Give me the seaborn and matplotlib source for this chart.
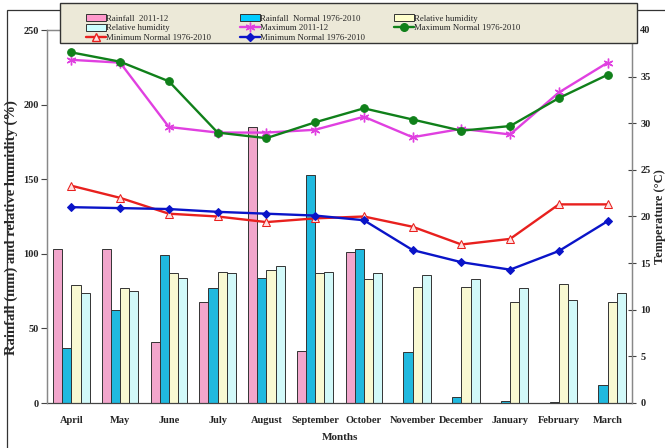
import matplotlib
matplotlib.use("Agg")
import matplotlib.pyplot as plt
from matplotlib.patches import Patch, Rectangle
from matplotlib.lines import Line2D
import numpy as np
import pandas as pd
import seaborn as sns

months = ["April", "May", "June", "July", "August", "September", "October",
          "November", "December", "January", "February", "March"]

# bars, left axis
rain_2011 = [103, 103, 41, 68, 185, 35, 101, 0, 0, 0, 0, 0]
rain_normal = [37, 62, 99, 77, 84, 153, 103, 34, 4, 1.6, 0.5, 12]
rh_yellow = [79, 77, 87, 88, 89, 87, 83, 78, 78, 68, 80, 68]
rh_cyan = [74, 75, 84, 87, 92, 88, 87, 86, 83, 77, 69, 74]

# lines, right axis (deg C)
tmax_2011 = [36.8, 36.5, 29.6, 29.0, 29.0, 29.3, 30.7, 28.5, 29.4, 28.8, 33.3, 36.5]
tmax_normal = [37.6, 36.6, 34.5, 29.0, 28.4, 30.1, 31.6, 30.4, 29.2, 29.7, 32.7, 35.2]
tmin_normal_red = [23.3, 22.0, 20.3, 20.0, 19.4, 19.8, 20.0, 18.9, 17.0, 17.6, 21.3, 21.3]
tmin_normal_blue = [21.0, 20.9, 20.8, 20.5, 20.3, 20.1, 19.6, 16.4, 15.1, 14.3, 16.3, 19.5]

bar_names = ["Rainfall  2011-12", "Rainfall  Normal 1976-2010",
             "Relative humidity", "Relative humidity "]
bar_colors = ["#FF99CC", "#00CCFF", "#FFFFCC", "#CCFFFF"]

sns.set_style("white")
plt.rcParams["font.family"] = ["Liberation Serif", "DejaVu Serif"]

W, H = 665, 448
fig = plt.figure(figsize=(W / 100, H / 100), dpi=100)
ax = fig.add_axes([47 / W, 1 - 403 / H, 585 / W, 373 / H])

df = pd.DataFrame({
    "month": months * 4,
    "value": rain_2011 + rain_normal + rh_yellow + rh_cyan,
    "series": sum([[n] * len(months) for n in bar_names], []),
})
sns.barplot(data=df, x="month", y="value", hue="series", hue_order=bar_names,
            palette=bar_colors, width=0.75, edgecolor="#333333", linewidth=0.7,
            errorbar=None, legend=False, ax=ax)

ax.set_xlim(-0.5, len(months) - 0.5)
ax.set_ylim(0, 250)
ax.set_yticks(np.arange(0, 251, 50))
ax.set_xticks(np.arange(len(months)))
ax.set_xticklabels(months, fontweight="bold", fontsize=7.5)
ax.set_xticks(np.arange(-0.5, len(months), 1), minor=True)
ax.tick_params(axis="x", which="major", length=0, pad=9)
ax.tick_params(axis="x", which="minor", length=6, direction="inout", color="#444444", width=0.8)
ax.tick_params(axis="y", length=4, direction="out", color="#444444", width=0.8,
               labelsize=7.5, pad=2, left=True)
for lab in ax.get_yticklabels():
    lab.set_fontweight("bold")
ax.set_xlabel("Months", fontweight="bold", fontsize=8, labelpad=6)
ax.set_ylabel("Rainfall (mm) and relative humidity (%)", fontweight="bold", fontsize=10.5)
ax.yaxis.set_label_coords((18 - 47) / 585, 0.47)
for s in ["left", "right", "top"]:
    ax.spines[s].set_color("#888888")
    ax.spines[s].set_linewidth(0.9)
ax.spines["bottom"].set_color("#444444")
ax.spines["bottom"].set_linewidth(0.9)

ax2 = ax.twinx()
x = np.arange(len(months))
line_specs = [
    (tmin_normal_red, "#E8201E", "^", dict(markerfacecolor="#FFE0E0", markeredgecolor="#E8201E", markersize=5.5)),
    (tmin_normal_blue, "#0A14C8", "D", dict(markerfacecolor="#0A14C8", markeredgecolor="#0A14C8", markersize=4.5)),
    (tmax_2011, "#E040E0", (6, 2, 0), dict(markeredgecolor="#E040E0", markersize=7, markeredgewidth=1)),
    (tmax_normal, "#10801A", "o", dict(markerfacecolor="#10801A", markeredgecolor="#10801A", markersize=5.5)),
]
for vals, col, mk, kw in line_specs:
    sns.lineplot(x=x, y=vals, color=col, marker=mk, linewidth=1.7, ax=ax2, **kw)

ax2.set_ylim(0, 40)
ax2.set_yticks(np.arange(0, 41, 5))
ax2.tick_params(axis="y", length=6, direction="inout", color="#444444", width=0.8,
                labelsize=7.5, pad=3, right=True)
for lab in ax2.get_yticklabels():
    lab.set_fontweight("bold")
ax2.set_ylabel("Temperature (°C)", fontweight="bold", fontsize=9)
ax2.yaxis.set_label_coords((654 - 47) / 585, 0.5)
for s in ["left", "right", "top", "bottom"]:
    ax2.spines[s].set_color("#888888")
    ax2.spines[s].set_linewidth(0.9)
ax2.spines["bottom"].set_visible(False)

# outer chart border
fig.patches.append(Rectangle((7 / W, -0.1), 1.2, (H - 10) / H + 0.1, transform=fig.transFigure,
                             fill=False, edgecolor="#333333", linewidth=0.9, zorder=0))
# legend box
fig.patches.append(Rectangle((60 / W, 1 - 43 / H), 577 / W, 40 / H, transform=fig.transFigure,
                             facecolor="#ECE9D8", edgecolor="#333333", linewidth=1.0, zorder=5))

h_rain = Patch(facecolor=bar_colors[0], edgecolor="#333333", linewidth=0.7)
h_norm = Patch(facecolor=bar_colors[1], edgecolor="#333333", linewidth=0.7)
h_rhy = Patch(facecolor=bar_colors[2], edgecolor="#333333", linewidth=0.7)
h_rhc = Patch(facecolor=bar_colors[3], edgecolor="#333333", linewidth=0.7)
h_lines = []
for vals, col, mk, kw in line_specs:
    h_lines.append(Line2D([], [], color=col, marker=mk, linewidth=1.7, **kw))

handles = [h_rain, h_rhc, h_lines[0], h_norm, h_lines[2], h_lines[1], h_rhy, h_lines[3]]
labels = ["Rainfall  2011-12", "Relative humidity", "Minimum Normal 1976-2010",
          "Rainfall  Normal 1976-2010", "Maximum 2011-12", "Minimum Normal 1976-2010",
          "Relative humidity", "Maximum Normal 1976-2010"]
leg = fig.legend(handles, labels, loc="upper left", bbox_to_anchor=(82 / W, 1 - 10 / H),
                 ncol=3, frameon=False, fontsize=6.3, handlelength=2.2, handleheight=0.8,
                 handletextpad=0.1, labelspacing=0.15, columnspacing=3.3, borderpad=0)
leg.set_zorder(6)

fig.savefig("out.png", dpi=100)
